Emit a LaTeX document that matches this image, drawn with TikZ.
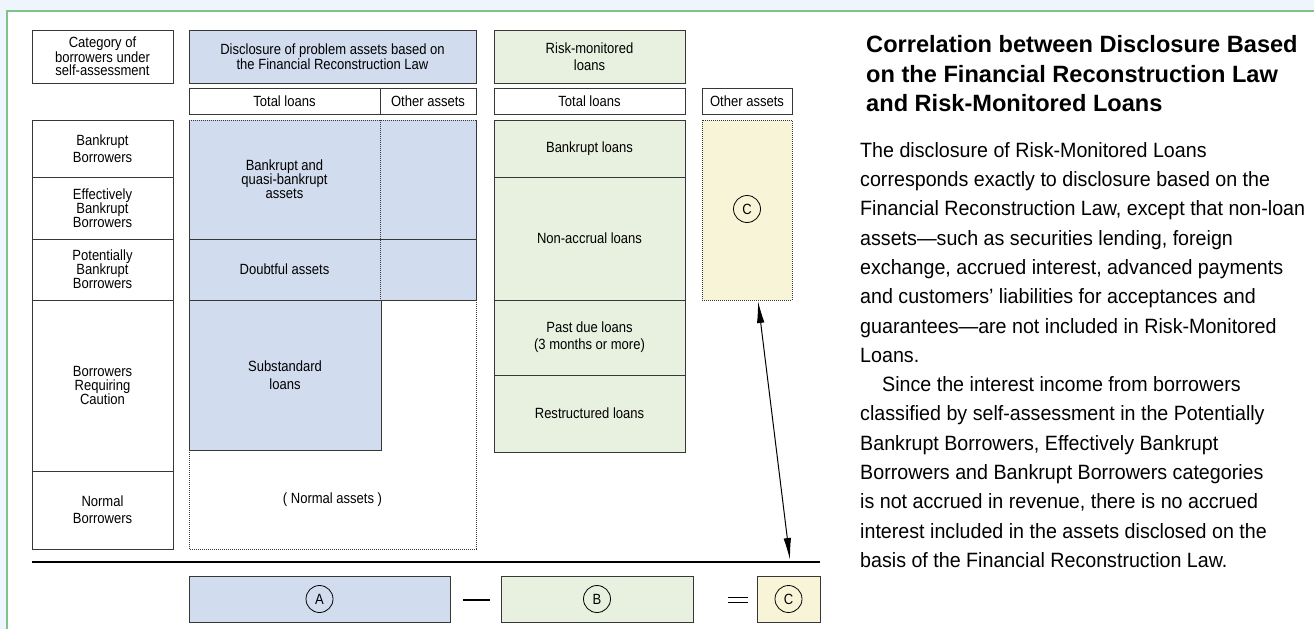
\documentclass[tikz,border=0pt]{standalone}
\usepackage{fontspec}
\setmainfont{Liberation Sans}
\newfontfamily\dfont[FakeStretch=0.88]{Liberation Sans}
\newfontfamily\bodyfont[FakeStretch=0.95]{Liberation Sans}
\usetikzlibrary{arrows.meta}
\definecolor{bgblue}{RGB}{238,245,252}
\definecolor{framegreen}{RGB}{126,194,140}
\definecolor{bluefill}{RGB}{209,220,238}
\definecolor{greenfill}{RGB}{232,240,223}
\definecolor{yellowfill}{RGB}{248,244,216}
\definecolor{linec}{RGB}{55,55,55}
\tikzset{
  cell/.style={draw=linec, line width=1pt, inner sep=0pt, outer sep=0pt, anchor=north west, align=center,
     font=\dfont\fontsize{14.8}{14}\selectfont},
  area/.style={draw=none, inner sep=0pt, outer sep=0pt, anchor=north west, align=center,
     font=\dfont\fontsize{14.8}{14}\selectfont},
  solidline/.style={draw=linec, line width=1pt},
  dotline/.style={draw=linec, line width=0.8pt, dash pattern=on 1pt off 1pt},
  letter/.style={draw=black, circle, line width=0.8pt, minimum size=27pt, inner sep=0pt,
     font=\dfont\fontsize{14.8}{14}\selectfont},
  opline/.style={draw=black, line width=1.6pt}
}
\begin{document}
\begin{tikzpicture}[x=1pt,y=-1pt]
\useasboundingbox (0,0) rectangle (1314,629);
% background and frame
\fill[bgblue] (0,0) rectangle (1314,629);
\fill[white] (7,11) rectangle (1314,629);
\draw[framegreen, line width=1.5pt] (1314,11) -- (7,11) -- (7,629);

% header row
\node[cell, minimum width=141, minimum height=53, font=\dfont\fontsize{14.8}{13.5}\selectfont] (cat) at (32,30) {Category of\\borrowers under\\self-assessment};
\node[cell, fill=bluefill, minimum width=287, minimum height=53, font=\dfont\fontsize{14.8}{13}\selectfont] (disc) at (189,30) {Disclosure of problem assets based on\\the Financial Reconstruction Law};
\node[cell, fill=greenfill, minimum width=191, minimum height=53, font=\dfont\fontsize{14.8}{17}\selectfont] (rml) at (494,30) {Risk-monitored\\loans};

\node[cell, minimum width=191, minimum height=26] (tl1) at (189,88) {Total loans};
\node[cell, minimum width=96, minimum height=26] (oa1) at (380,88) {Other assets};
\node[cell, minimum width=191, minimum height=26] (tl2) at (494,88) {Total loans};
\node[cell, minimum width=90, minimum height=26] (oa2) at (702,88) {Other assets};

% left column
\node[cell, minimum width=141, minimum height=57, font=\dfont\fontsize{14.8}{17}\selectfont] (bb) at (32,120) {Bankrupt\\Borrowers};
\node[cell, minimum width=141, minimum height=62] (ebb) at (32,177) {Effectively\\Bankrupt\\Borrowers};
\node[cell, minimum width=141, minimum height=61] (pbb) at (32,239) {Potentially\\Bankrupt\\Borrowers};
\node[cell, minimum width=141, minimum height=171] (brc) at (32,300) {Borrowers\\Requiring\\Caution};
\node[cell, minimum width=141, minimum height=78, font=\dfont\fontsize{14.8}{17}\selectfont] (nb) at (32,471) {Normal\\Borrowers};

% blue disclosure area
\node[area, fill=bluefill, minimum width=191, minimum height=119] (bq) at (189,120) {Bankrupt and\\quasi-bankrupt\\assets};
\node[area, fill=bluefill, minimum width=96, minimum height=119] (bqo) at (380,120) {};
\node[area, fill=bluefill, minimum width=191, minimum height=61] (doubt) at (189,239) {Doubtful assets};
\node[area, fill=bluefill, minimum width=96, minimum height=61] (doubto) at (380,239) {};
\node[area, fill=bluefill, minimum width=192, minimum height=150, font=\dfont\fontsize{14.8}{18}\selectfont] (subst) at (189,300) {Substandard\\loans};
\node[area, minimum width=287, minimum height=99] (normal) at (189,450) {( Normal assets )};
% dotted outline
\draw[dotline] (bq.north west) -- (bqo.north east);
\draw[dotline] (bq.north east) -- (doubt.south east);
\draw[dotline] (doubto.south east) -- (normal.south east) -- (normal.south west) -- (subst.south west);
% solid lines
\draw[solidline] (bq.north west) -- (subst.south west) -- (subst.south east) -- (subst.north east);
\draw[solidline] (doubt.north west) -- (doubto.north east);
\draw[solidline] (doubt.south west) -- (doubto.south east);
\draw[solidline] (bqo.north east) -- (doubto.south east);

% green risk-monitored column
\node[cell, fill=greenfill, minimum width=191, minimum height=57] (bankl) at (494,120) {Bankrupt loans};
\node[cell, fill=greenfill, minimum width=191, minimum height=123] (nonacc) at (494,177) {Non-accrual loans};
\node[cell, fill=greenfill, minimum width=191, minimum height=75, font=\dfont\fontsize{14.8}{17}\selectfont] (pastdue) at (494,300) {Past due loans\\(3 months or more)};
\node[cell, fill=greenfill, minimum width=191, minimum height=77] (restr) at (494,375) {Restructured loans};

% yellow other assets
\node[cell, draw=none, fill=yellowfill, minimum width=90, minimum height=180] (cbox) at (702,120) {};
\draw[dotline] (cbox.north west) rectangle (cbox.south east);
\node[letter] (cc) at (747,209) {C};

% separator line
\coordinate (sepl) at (32,562);
\coordinate (sepr) at (820,562);
\draw[black, line width=1.8pt] (sepl) -- (sepr);

% arrow
\coordinate (arrtop) at (758,301);
\coordinate (arrbot) at (790,560);
\draw[black, line width=1pt, {Latex[length=22pt,width=7.5pt]}-{Latex[length=22pt,width=7.5pt]}] (arrtop) -- (arrbot);

% equation row
\node[cell, fill=bluefill, minimum width=261, minimum height=46] (boxa) at (189,576) {};
\node[letter] (la) at (boxa.center) {A};
\coordinate (m1) at (463,600);
\coordinate (m2) at (490,600);
\draw[opline] (m1) -- (m2);
\node[cell, fill=greenfill, minimum width=192, minimum height=46] (boxb) at (501,576) {};
\node[letter] (lb) at (boxb.center) {B};
\coordinate (e1) at (728,597.5);
\coordinate (e2) at (748,597.5);
\coordinate (e3) at (728,602.5);
\coordinate (e4) at (748,602.5);
\draw[opline, line width=1.3pt] (e1) -- (e2);
\draw[opline, line width=1.3pt] (e3) -- (e4);
\node[cell, fill=yellowfill, minimum width=63, minimum height=46] (boxc) at (757,576) {};
\node[letter] (lc) at (boxc.center) {C};

% title and text
\node[anchor=north west, inner sep=0pt, align=left, font=\bfseries\fontsize{23.6}{29.5}\selectfont] (title) at (866,35.5) {Correlation between Disclosure Based\\on the Financial Reconstruction Law\\and Risk-Monitored Loans};
\node[anchor=north west, inner sep=0pt, align=left, font=\bodyfont\fontsize{20.7}{29.3}\selectfont] (body) at (860,142) {The disclosure of Risk-Monitored Loans\\
corresponds exactly to disclosure based on the\\
Financial Reconstruction Law, except that non-loan\\
assets—such as securities lending, foreign\\
exchange, accrued interest, advanced payments\\
and customers’ liabilities for acceptances and\\
guarantees—are not included in Risk-Monitored\\
Loans.\\
\hspace*{22pt}Since the interest income from borrowers\\
classified by self-assessment in the Potentially\\
Bankrupt Borrowers, Effectively Bankrupt\\
Borrowers and Bankrupt Borrowers categories\\
is not accrued in revenue, there is no accrued\\
interest included in the assets disclosed on the\\
basis of the Financial Reconstruction Law.};
\end{tikzpicture}
\end{document}
